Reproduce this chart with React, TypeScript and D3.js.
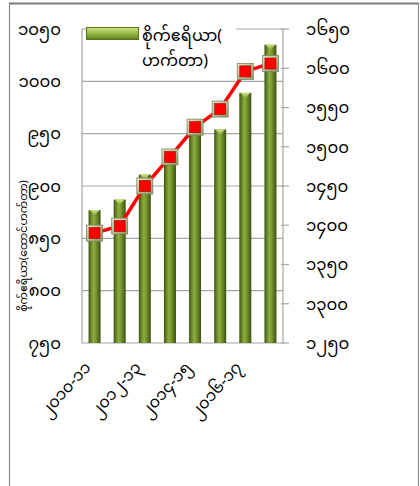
import React from "react";
import * as d3 from "d3";

const categories = ["2010-11", "2011-12", "2012-13", "2013-14", "2014-15", "2015-16", "2016-17", "2017-18"];
const xTickLabels = ["2010-11", "2012-13", "2014-15", "2016-17"];
const areaValues = [877, 887, 911, 935, 960, 954, 989, 1035];
const lineValues = [1390, 1399, 1450, 1487, 1525, 1548, 1596, 1606];
const leftTicks = [750, 800, 850, 900, 950, 1000, 1050];
const rightTicks = [1250, 1300, 1350, 1400, 1450, 1500, 1550, 1600, 1650];
const legendLabel = ["စိုက်ဧရိယာ(", "ဟက်တာ)"];
const leftTitle = "စိုက်ဧရိယာ(ထောင်ဟက်တာ)";

const toMy = (s: string | number) =>
  String(s).replace(/[0-9]/g, (d) => String.fromCharCode(0x1040 + Number(d)));

const W = 420;
const H = 486;
const plot = { left: 82, right: 283, top: 29, bottom: 343 };
const font = "'Noto Sans Myanmar', 'Myanmar Text', 'Padauk', 'Noto Sans', sans-serif";

export default function App() {
  const x = d3
    .scaleBand<string>()
    .domain(categories)
    .range([plot.left, plot.right])
    .paddingInner(0)
    .paddingOuter(0);
  const yL = d3.scaleLinear().domain([750, 1050]).range([plot.bottom, plot.top]);
  const yR = d3.scaleLinear().domain([1250, 1650]).range([plot.bottom, plot.top]);
  const bw = 12;
  const cx = (c: string) => (x(c) as number) + x.bandwidth() / 2;

  const line = d3
    .line<number>()
    .x((_, i) => cx(categories[i]))
    .y((v) => yR(v));

  return (
    <svg
      width={W}
      height={H}
      style={{ position: "absolute", left: 0, top: 0, background: "#fff" }}
      fontFamily={font}
    >
      <defs>
        <linearGradient id="barG" x1="0" x2="1" y1="0" y2="0">
          <stop offset="0%" stopColor="#3e5213" />
          <stop offset="22%" stopColor="#6b8a28" />
          <stop offset="42%" stopColor="#8dad42" />
          <stop offset="62%" stopColor="#76962f" />
          <stop offset="100%" stopColor="#3b4f12" />
        </linearGradient>
        <linearGradient id="capG" x1="0" x2="0" y1="0" y2="1">
          <stop offset="0%" stopColor="#c8e07e" />
          <stop offset="100%" stopColor="#8fb043" />
        </linearGradient>
        <linearGradient id="legG" x1="0" x2="0" y1="0" y2="1">
          <stop offset="0%" stopColor="#cfe38a" />
          <stop offset="45%" stopColor="#9dbd4c" />
          <stop offset="100%" stopColor="#5f7d20" />
        </linearGradient>
        <linearGradient id="mkG" x1="0" x2="1" y1="0" y2="1">
          <stop offset="0%" stopColor="#e4e8c8" />
          <stop offset="100%" stopColor="#8f9766" />
        </linearGradient>
      </defs>

      {/* outer frame */}
      <rect x={9.5} y={3.5} width={409} height={500} fill="none" stroke="#8c8c8c" strokeWidth={1.2} />
      <line x1={9} x2={419} y1={3.5} y2={3.5} stroke="#808080" strokeWidth={2} />

      {/* gridlines */}
      {leftTicks.map((t) => (
        <line key={t} x1={plot.left} x2={plot.right} y1={yL(t)} y2={yL(t)} stroke="#a6a6a6" strokeWidth={1.2} />
      ))}
      <line x1={plot.left} x2={plot.left} y1={plot.top} y2={plot.bottom} stroke="#a6a6a6" strokeWidth={1.2} />
      <line x1={plot.right} x2={plot.right} y1={plot.top} y2={plot.bottom} stroke="#a6a6a6" strokeWidth={1.2} />
      {rightTicks.map((t) => (
        <line key={t} x1={plot.right - 2} x2={plot.right + 6} y1={yR(t)} y2={yR(t)} stroke="#a6a6a6" strokeWidth={1.2} />
      ))}

      {/* legend (drawn over top gridline) */}
      <rect x={86} y={20} width={150} height={55} fill="#fff" />
      <rect x={86.5} y={27.5} width={52} height={12} fill="url(#legG)" stroke="#5a7419" strokeWidth={1} />
      <text x={142} y={41} fontSize={16} fill="#000">{legendLabel[0]}</text>
      <text x={142} y={66} fontSize={16} fill="#000">{legendLabel[1]}</text>

      {/* bars */}
      {categories.map((c, i) => {
        const top = yL(areaValues[i]);
        return (
          <g key={c}>
            <rect x={cx(c) - bw / 2} y={top} width={bw} height={plot.bottom - top} fill="url(#barG)" />
            <polygon
              points={`${cx(c) - bw / 2 + 1},${top} ${cx(c) + bw / 2 - 1},${top} ${cx(c)},${top + 5}`}
              fill="url(#capG)"
            />
          </g>
        );
      })}

      {/* line */}
      <path d={line(lineValues) || ""} fill="none" stroke="#ff0000" strokeWidth={3.5} />
      {lineValues.map((v, i) => {
        const px = cx(categories[i]);
        const py = yR(v);
        return (
          <g key={i}>
            <rect x={px - 8} y={py - 8} width={16} height={16} fill="url(#mkG)" stroke="#7d845a" strokeWidth={0.8} />
            <rect x={px - 5.5} y={py - 5.5} width={11} height={11} fill="#ff0000" stroke="#a00000" strokeWidth={0.6} />
          </g>
        );
      })}

      {/* left axis title */}
      <text
        transform={`translate(27,246) rotate(-90)`}
        fontSize={11}
        textAnchor="middle"
        fill="#000"
      >
        {leftTitle}
      </text>

      {/* left axis labels */}
      {leftTicks.map((t) => (
        <text key={t} x={61} y={yL(t)} dy="0.35em" fontSize={16.5} textAnchor="end" fill="#000">
          {toMy(t)}
        </text>
      ))}
      {/* right axis labels */}
      {rightTicks.map((t) => (
        <text key={t} x={306} y={yR(t)} dy="0.35em" fontSize={16.5} textAnchor="start" fill="#000">
          {toMy(t)}
        </text>
      ))}

      {/* x labels */}
      {xTickLabels.map((c) => (
        <text
          key={c}
          transform={`translate(${cx(c) - 3},${plot.bottom + 25}) rotate(-48)`}
          fontSize={16}
          textAnchor="end"
          fill="#000"
        >
          {toMy(c)}
        </text>
      ))}
    </svg>
  );
}
